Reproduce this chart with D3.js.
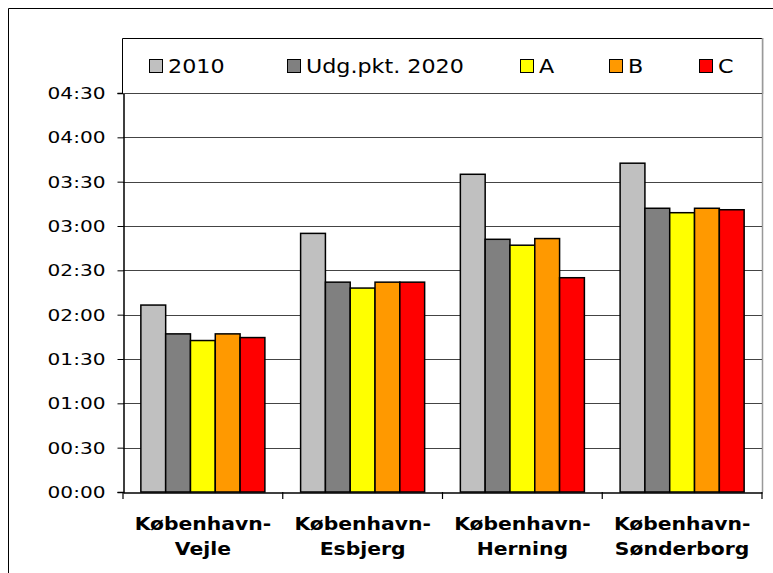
<!DOCTYPE html>
<html>
<head>
<meta charset="utf-8">
<script src="https://cdn.jsdelivr.net/npm/d3@7"></script>
<style>
body { margin: 0; background: #fff; }
text { font-family: "DejaVu Sans", Verdana, sans-serif; fill: #000; }
</style>
</head>
<body>
<svg id="chart"></svg>
<script>
'use strict'

// data (travel times in minutes)
const routes = ["København-Vejle", "København-Esbjerg", "København-Herning", "København-Sønderborg"]
const seriesNames = ["2010", "Udg.pkt. 2020", "A", "B", "C"]
const values2010 = [126.5, 175, 215, 222.5]
const valuesUdg = [107, 142, 171, 192]
const valuesA = [102.5, 138, 167, 189]
const valuesB = [107, 142, 171.5, 192]
const valuesC = [104.5, 142, 145, 191]
const yTickValues = [0, 30, 60, 90, 120, 150, 180, 210, 240, 270]

const seriesValues = [values2010, valuesUdg, valuesA, valuesB, valuesC]
const colors = ["#c0c0c0", "#808080", "#ffff00", "#ff9900", "#ff0000"]

const W = 773, H = 573
const plot = {left: 123, right: 762, top: 93, bottom: 492}
const stretch = 1.22 // the original text is a bit wide

const svg = d3.select('#chart').attr('width', W).attr('height', H)

// outer frame (only top and left visible)
svg.append('path').attr('d', 'M8.5,' + H + 'V8.5H' + W)
  .attr('fill', 'none').attr('stroke', '#000').attr('stroke-width', 1)

// scales
const x0 = d3.scaleBand().domain(routes).range([plot.left, plot.right]).padding(0)
const x1 = d3.scaleBand().domain(seriesNames).range([0, x0.bandwidth()])
  .paddingInner(0).paddingOuter(0.72)
const y = d3.scaleLinear().domain([0, 270]).range([plot.bottom, plot.top])

const fmt = m => String(Math.floor(m / 60)).padStart(2, '0') + ':' + String(m % 60).padStart(2, '0')

// plot area right border (grey)
svg.append('line')
  .attr('x1', plot.right + 0.5).attr('x2', plot.right + 0.5)
  .attr('y1', 38).attr('y2', plot.bottom)
  .attr('stroke', '#999').attr('stroke-width', 1.5)

// gridlines
svg.append('g').selectAll('line')
  .data(yTickValues.filter(d => d > 0))
  .enter().append('line')
  .attr('x1', plot.left).attr('x2', plot.right)
  .attr('y1', d => Math.round(y(d)) + 0.5).attr('y2', d => Math.round(y(d)) + 0.5)
  .attr('stroke', '#444').attr('stroke-width', 1)

// bars
const table = []
routes.forEach((r, i) => {
  seriesNames.forEach((s, j) => {
    table.push({route: r, series: s, value: seriesValues[j][i], color: colors[j]})
  })
})

svg.append('g').selectAll('rect')
  .data(table)
  .enter().append('rect')
  .attr('x', d => x0(d.route) + x1(d.series))
  .attr('y', d => y(d.value))
  .attr('width', x1.bandwidth())
  .attr('height', d => y(0) - y(d.value))
  .attr('fill', d => d.color)
  .attr('stroke', '#000')
  .attr('stroke-width', 1.5)

// y axis
const yAxis = svg.append('g')
  .attr('transform', 'translate(' + (plot.left + 0.5) + ',0)')
  .call(d3.axisLeft(y).tickValues(yTickValues).tickSize(6).tickPadding(0).tickFormat(''))
yAxis.select('.domain').attr('stroke', '#000').attr('stroke-width', 1.5)
yAxis.selectAll('.tick line').attr('stroke', '#000')

svg.append('g').selectAll('text')
  .data(yTickValues)
  .enter().append('text')
  .attr('transform', d => 'translate(105.5,' + (y(d) + 6) + ') scale(' + stretch + ',1)')
  .attr('text-anchor', 'end')
  .style('font-size', '16.5px')
  .text(d => fmt(d))

// x axis
const xAxis = svg.append('g')
  .attr('transform', 'translate(0,' + (plot.bottom + 0.5) + ')')
  .call(d3.axisBottom(x0).tickSize(0).tickFormat(''))
xAxis.select('.domain').attr('stroke', '#000').attr('stroke-width', 1.5)
xAxis.selectAll('.tick').remove()

svg.append('g').selectAll('line')
  .data(routes.concat(['end']))
  .enter().append('line')
  .attr('x1', d => d === 'end' ? plot.right : x0(d))
  .attr('x2', d => d === 'end' ? plot.right : x0(d))
  .attr('y1', plot.bottom).attr('y2', plot.bottom + 7)
  .attr('stroke', '#000').attr('stroke-width', 1.2)

const xLabels = svg.append('g').selectAll('g')
  .data(routes)
  .enter().append('g')
  .attr('transform', d => 'translate(' + (x0(d) + x0.bandwidth() / 2) + ',0)')
xLabels.each(function (d) {
  const parts = d.split('-')
  const g = d3.select(this)
  g.append('text')
    .attr('transform', 'translate(0,530) scale(1.13,1)')
    .attr('text-anchor', 'middle')
    .style('font-size', '18px').style('font-weight', 'bold')
    .text(parts[0] + '-')
  g.append('text')
    .attr('transform', 'translate(0,555) scale(1.13,1)')
    .attr('text-anchor', 'middle')
    .style('font-size', '18px').style('font-weight', 'bold')
    .text(parts[1])
})

// legend
const legendX = [149, 287, 520, 609, 699]
svg.append('rect')
  .attr('x', 122).attr('y', 38.5).attr('width', plot.right - 122).attr('height', plot.top - 38.5)
  .attr('fill', '#fff').attr('stroke', 'none')
svg.append('path')
  .attr('d', 'M122.5,' + plot.top + 'V38.5H' + plot.right)
  .attr('fill', 'none').attr('stroke', '#000').attr('stroke-width', 1)
svg.append('line')
  .attr('x1', plot.right + 0.5).attr('x2', plot.right + 0.5)
  .attr('y1', 38).attr('y2', plot.top + 1)
  .attr('stroke', '#999').attr('stroke-width', 1.5)
svg.append('line')
  .attr('x1', plot.left).attr('x2', plot.right)
  .attr('y1', Math.round(y(270)) + 0.5).attr('y2', Math.round(y(270)) + 0.5)
  .attr('stroke', '#444')

const legend = svg.append('g').selectAll('g')
  .data(seriesNames)
  .enter().append('g')
  .attr('transform', (d, i) => 'translate(' + legendX[i] + ',0)')
legend.append('rect')
  .attr('x', 0.5).attr('y', 59.5).attr('width', 13).attr('height', 13)
  .attr('fill', (d, i) => colors[i]).attr('stroke', '#000').attr('stroke-width', 1)
legend.append('text')
  .attr('transform', 'translate(19,72.5) scale(1.17,1)')
  .style('font-size', '19px')
  .text(d => d)
</script>
</body>
</html>
